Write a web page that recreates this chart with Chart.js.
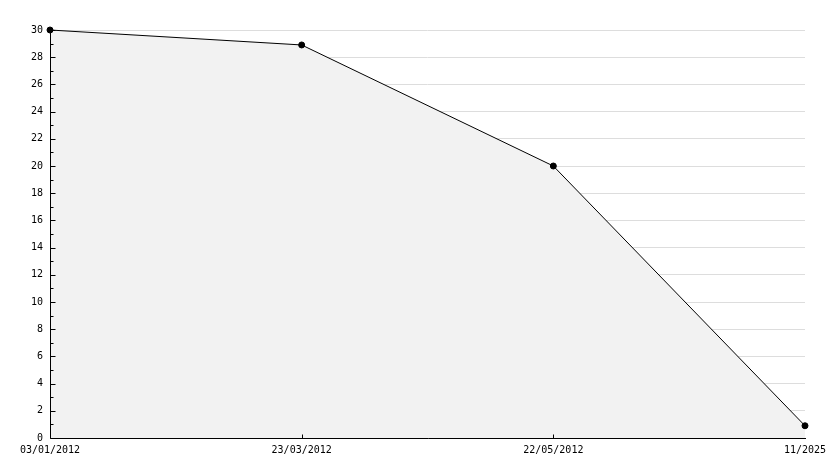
<!DOCTYPE html>
<html>
<head>
<meta charset="utf-8">
<script src="https://cdn.jsdelivr.net/npm/chart.js@4/dist/chart.umd.min.js"></script>
<style>
  html, body { margin: 0; padding: 0; background: #fff; }
  canvas { display: block; }
</style>
</head>
<body>
<canvas id="chart" width="834" height="468"></canvas>
<script>
var dateLabels = ["03/01/2012", "23/03/2012", "22/05/2012", "11/2025"];
var values = [30, 28.9, 20, 0.9];
var yMin = 0;
var yMax = 30;
var yStep = 2;

// axis lines on top of the fill, plus small inward tick marks
var innerTicks = {
    id: "innerTicks",
    afterDatasetsDraw: function(chart) {
        var ctx = chart.ctx;
        var area = chart.chartArea;
        var y = chart.scales.y;
        var x = chart.scales.x;
        var left = Math.round(area.left) + 0.5;
        var bottom = Math.round(area.bottom) + 0.5;
        ctx.save();
        ctx.strokeStyle = "#000";
        ctx.lineWidth = 1;
        ctx.beginPath();
        ctx.moveTo(left, Math.round(area.top));
        ctx.lineTo(left, bottom);
        ctx.lineTo(Math.round(area.right) + 1, bottom);
        for (var v = yMin; v <= yMax; v++) {
            var py = Math.round(y.getPixelForValue(v)) + 0.5;
            var len = (v % yStep === 0) ? 5 : 3;
            ctx.moveTo(left, py);
            ctx.lineTo(left + len, py);
        }
        for (var i = 1; i < dateLabels.length - 1; i++) {
            var px = Math.round(x.getPixelForValue(i)) + 0.5;
            ctx.moveTo(px, bottom);
            ctx.lineTo(px, bottom - 4);
        }
        ctx.stroke();
        ctx.restore();
    }
};

var tickFont = { family: "DejaVu Sans Mono", size: 10 };

new Chart(document.getElementById("chart"), {
    type: "line",
    data: {
        labels: dateLabels,
        datasets: [{
            data: values,
            borderColor: "#000",
            borderWidth: 1,
            backgroundColor: "#f2f2f2",
            fill: "origin",
            tension: 0,
            clip: false,
            pointRadius: 3,
            pointStyle: "circle",
            pointBackgroundColor: "#000",
            pointBorderColor: "#000",
            pointBorderWidth: 1
        }]
    },
    options: {
        responsive: false,
        animation: false,
        devicePixelRatio: 1,
        layout: { padding: { left: 0, right: 29, top: 30, bottom: 0 } },
        plugins: {
            legend: { display: false },
            tooltip: { enabled: false }
        },
        scales: {
            x: {
                offset: false,
                grid: { display: false, drawTicks: false },
                border: { display: false },
                ticks: {
                    color: "#000",
                    font: tickFont,
                    padding: 6,
                    maxRotation: 0,
                    autoSkip: false
                },
                afterFit: function(scale) { scale.height = 30; }
            },
            y: {
                min: yMin,
                max: yMax,
                grid: { color: "#dddddd", drawTicks: false },
                border: { display: false },
                ticks: {
                    stepSize: yStep,
                    color: "#000",
                    font: tickFont,
                    padding: 7
                },
                afterFit: function(scale) { scale.width = 50; }
            }
        }
    },
    plugins: [innerTicks]
});
</script>
</body>
</html>
